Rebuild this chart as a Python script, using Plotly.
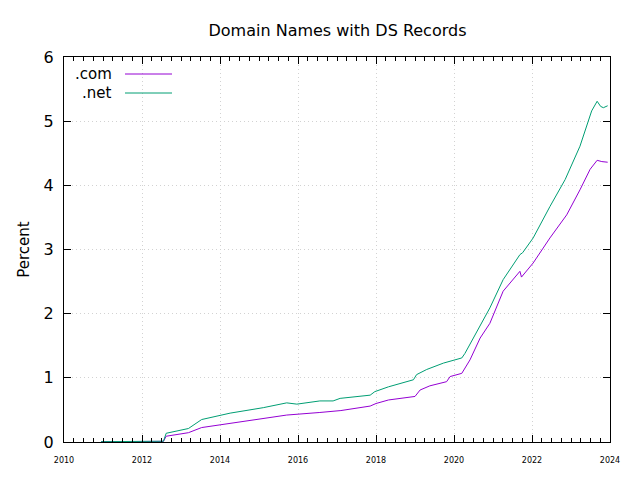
import plotly.graph_objects as go

# values (decimal years, percent)
com_year = [2010.95, 2011.5, 2012.0, 2012.55, 2012.62, 2013.0, 2013.19, 2013.53, 2014.26,
            2015.11, 2015.71, 2016.56, 2017.1, 2017.85, 2018.0, 2018.32, 2019.0, 2019.13,
            2019.38, 2019.81, 2019.9, 2020.2, 2020.41, 2020.67, 2020.92, 2021.26, 2021.69,
            2021.73, 2022.03, 2022.46, 2022.89, 2023.23, 2023.49, 2023.67, 2023.79, 2023.94]
com_pct = [0.005, 0.008, 0.01, 0.01, 0.09, 0.12, 0.145, 0.225, 0.29,
           0.37, 0.42, 0.46, 0.49, 0.56, 0.6, 0.655, 0.71, 0.81,
           0.875, 0.94, 1.02, 1.07, 1.28, 1.62, 1.85, 2.35, 2.66,
           2.57, 2.79, 3.18, 3.54, 3.93, 4.25, 4.39, 4.37, 4.36]

net_year = [2010.95, 2011.5, 2012.0, 2012.55, 2012.62, 2013.19, 2013.53, 2014.26, 2015.11,
            2015.71, 2015.97, 2016.56, 2016.9, 2017.08, 2017.85, 2017.97, 2018.32, 2018.96,
            2019.04, 2019.3, 2019.73, 2020.2, 2020.28, 2020.62, 2020.92, 2021.26, 2021.69,
            2021.76, 2022.03, 2022.46, 2022.85, 2023.23, 2023.4, 2023.53, 2023.67, 2023.76,
            2023.83, 2023.94]
net_pct = [0.005, 0.01, 0.012, 0.012, 0.136, 0.21, 0.35, 0.45, 0.535,
           0.61, 0.59, 0.64, 0.64, 0.68, 0.73, 0.785, 0.86, 0.97,
           1.05, 1.13, 1.23, 1.31, 1.38, 1.75, 2.09, 2.53, 2.92,
           2.95, 3.18, 3.67, 4.09, 4.61, 4.92, 5.16, 5.31, 5.23,
           5.21, 5.24]

names = [".com", ".net"]
colors = ["#9400d3", "#009e73"]

# page body has an 8px margin, so the margins are shifted to compensate
W, H = 640, 480
L, R, T, B = 56, 38, 49, 46

fig = go.Figure()
fig.add_trace(go.Scatter(x=com_year, y=com_pct, mode="lines", name=names[0],
                         line=dict(color=colors[0], width=1)))
fig.add_trace(go.Scatter(x=net_year, y=net_pct, mode="lines", name=names[1],
                         line=dict(color=colors[1], width=1)))

# gnuplot style key: right aligned text, sample line to its right
pw, ph = W - L - R, H - T - B
for i, (nm, c) in enumerate(zip(names, colors)):
    yp = 1 - (17 + 19 * i) / ph
    fig.add_annotation(x=50 / pw, y=yp, xref="paper", yref="paper", text=nm,
                       showarrow=False, xanchor="right", yanchor="middle",
                       font=dict(size=15, color="black"))
    fig.add_shape(type="line", xref="paper", yref="paper",
                  x0=61 / pw, x1=108 / pw, y0=yp, y1=yp,
                  line=dict(color=c, width=1))

grid = dict(showgrid=True, gridcolor="#d2d2d2", griddash="1px,3px", gridwidth=1)

fig.update_layout(
    width=W, height=H,
    margin=dict(l=L, r=R, t=T, b=B),
    paper_bgcolor="white", plot_bgcolor="white",
    showlegend=False,
    font=dict(family="DejaVu Sans", color="black"),
    title=dict(text="Domain Names with DS Records", x=329.5 / W, xanchor="center",
               y=1 - 22 / H, yanchor="middle", font=dict(size=16)),
)
fig.update_xaxes(range=[2010, 2024], dtick=2, tick0=2010, tickformat="d",
                 ticks="inside", ticklen=7, tickcolor="black", mirror="ticks",
                 showline=True, linecolor="black", linewidth=1,
                 zeroline=False, tickfont=dict(size=8), ticklabelstandoff=10,
                 minor=dict(dtick=0.25, ticks="inside", ticklen=4, tickcolor="black",
                            showgrid=False),
                 **grid)
fig.update_yaxes(range=[0, 6], dtick=1, ticks="inside", ticklen=7, tickcolor="black",
                 mirror="ticks", showline=True, linecolor="black", linewidth=1,
                 zeroline=False, tickfont=dict(size=16), ticklabelstandoff=6,
                 title=dict(text="Percent", font=dict(size=15), standoff=10),
                 **grid)

fig.write_html("out.html")
